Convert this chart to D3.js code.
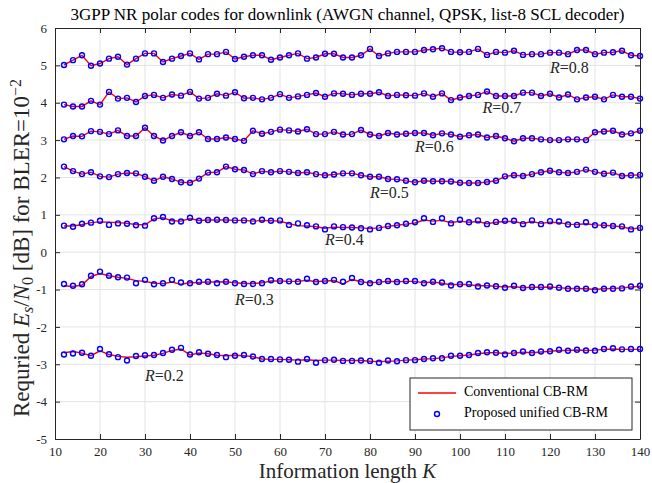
<!DOCTYPE html>
<html>
<head>
<meta charset="utf-8">
<script src="https://cdn.jsdelivr.net/npm/d3@7"></script>
<style>
  body { margin: 0; background: #fff; }
  svg text { font-family: "Liberation Serif", "Times New Roman", serif; }
</style>
</head>
<body>
<div id="container"></div>
<script>
// information length K (x values)
const K = [12,14,16,18,20,22,24,26,28,30,32,34,36,38,40,42,44,46,48,50,
  52,54,56,58,60,62,64,66,68,70,72,74,76,78,80,82,84,86,88,90,92,
  94,96,98,100,102,104,106,108,110,112,114,116,118,120,122,124,126,128,130,132,134,136,138,140];

// proposed unified CB-RM (blue circles)
const prop08 = [5.01,5.14,5.27,4.99,5.05,5.18,5.23,5.02,5.18,5.32,5.32,5.09,5.18,5.25,5.32,5.16,5.30,5.30,5.36,5.17,
  5.23,5.27,5.27,5.15,5.21,5.27,5.32,5.18,5.21,5.31,5.31,5.21,5.21,5.27,5.44,5.25,5.32,5.36,5.36,5.36,5.41,
  5.43,5.46,5.36,5.35,5.36,5.44,5.28,5.36,5.34,5.39,5.28,5.30,5.30,5.34,5.34,5.30,5.41,5.41,5.30,5.34,5.35,5.39,5.27,5.25];
const prop07 = [3.95,3.90,3.90,4.05,3.95,4.29,4.11,4.13,4.02,4.18,4.21,4.13,4.22,4.19,4.29,4.11,4.13,4.24,4.19,4.28,
  4.12,4.13,4.09,4.13,4.23,4.13,4.17,4.21,4.26,4.16,4.25,4.24,4.21,4.24,4.24,4.28,4.18,4.21,4.20,4.19,4.25,
  4.16,4.25,4.07,4.14,4.18,4.21,4.30,4.18,4.18,4.18,4.27,4.27,4.18,4.24,4.14,4.22,4.09,4.14,4.16,4.09,4.21,4.16,4.16,4.11];
const prop06 = [3.02,3.11,3.10,3.24,3.22,3.16,3.26,3.11,3.11,3.33,3.11,2.99,3.11,3.21,3.11,3.21,3.03,3.03,3.07,3.03,
  2.98,3.25,3.17,3.22,3.28,3.26,3.23,3.29,3.16,3.16,3.22,3.15,3.16,3.27,3.15,3.11,3.19,3.15,3.17,3.19,3.19,
  3.13,3.18,3.15,3.09,3.13,3.15,3.07,3.11,3.05,2.97,3.05,3.05,3.02,3.00,3.00,3.02,3.02,3.00,3.21,3.23,3.25,3.15,3.18,3.25];
const prop05 = [2.29,2.17,2.09,2.14,2.03,2.01,2.09,2.12,2.11,2.02,1.91,2.02,1.96,1.87,1.86,1.97,2.13,2.14,2.29,2.22,
  2.20,2.09,2.17,2.14,2.17,2.15,2.12,2.14,2.09,2.06,2.08,2.11,2.11,2.06,2.02,2.02,1.96,1.95,1.91,1.87,1.91,
  1.90,1.90,1.89,1.86,1.85,1.85,1.88,1.91,2.03,2.06,2.04,2.09,2.14,2.18,2.14,2.12,2.15,2.21,2.15,2.10,2.13,2.04,2.06,2.07];
const prop04 = [0.71,0.68,0.76,0.79,0.84,0.73,0.77,0.76,0.72,0.71,0.91,0.94,0.82,0.82,0.92,0.84,0.86,0.87,0.86,0.85,
  0.85,0.82,0.87,0.84,0.85,0.73,0.77,0.72,0.69,0.61,0.69,0.67,0.66,0.64,0.61,0.65,0.70,0.72,0.76,0.80,0.91,
  0.81,0.91,0.77,0.87,0.80,0.85,0.75,0.81,0.84,0.84,0.75,0.85,0.75,0.83,0.82,0.74,0.73,0.80,0.72,0.72,0.70,0.69,0.61,0.65];
const prop03 = [-0.85,-0.90,-0.86,-0.63,-0.52,-0.63,-0.67,-0.68,-0.83,-0.74,-0.86,-0.83,-0.74,-0.81,-0.83,-0.79,-0.79,-0.83,-0.79,-0.83,
  -0.85,-0.85,-0.83,-0.75,-0.77,-0.78,-0.79,-0.71,-0.80,-0.77,-0.74,-0.79,-0.69,-0.80,-0.83,-0.80,-0.77,-0.80,-0.77,-0.77,-0.83,
  -0.79,-0.81,-0.89,-0.86,-0.85,-0.92,-0.89,-0.91,-0.95,-0.90,-0.96,-0.93,-0.93,-0.92,-0.95,-0.98,-0.98,-0.98,-1.02,-0.98,-0.98,-0.97,-0.92,-0.90];
const prop02 = [-2.74,-2.71,-2.69,-2.77,-2.59,-2.73,-2.81,-2.90,-2.78,-2.76,-2.75,-2.70,-2.61,-2.56,-2.74,-2.68,-2.72,-2.75,-2.81,-2.77,
  -2.75,-2.79,-2.86,-2.86,-2.87,-2.88,-2.93,-2.86,-2.96,-2.89,-2.88,-2.91,-2.91,-2.90,-2.91,-2.96,-2.90,-2.92,-2.89,-2.89,-2.86,
  -2.84,-2.84,-2.77,-2.77,-2.75,-2.70,-2.68,-2.69,-2.74,-2.70,-2.66,-2.70,-2.66,-2.65,-2.61,-2.64,-2.61,-2.63,-2.64,-2.59,-2.57,-2.60,-2.59,-2.59];

// conventional CB-RM (red lines); R>=0.5 coincide with the proposed scheme
const conv04 = [0.70,0.70,0.74,0.79,0.81,0.80,0.79,0.77,0.74,0.73,0.89,0.92,0.84,0.83,0.90,0.85,0.86,0.86,0.86,0.85,
  0.85,0.83,0.85,0.84,0.83,0.76,0.71,0.70,0.68,0.64,0.67,0.66,0.66,0.65,0.63,0.65,0.69,0.72,0.75,0.78,0.86,
  0.83,0.85,0.79,0.83,0.80,0.82,0.76,0.80,0.82,0.82,0.77,0.82,0.77,0.80,0.79,0.75,0.74,0.76,0.73,0.72,0.70,0.68,0.62,0.65];
const conv03 = [-0.90,-0.92,-0.88,-0.65,-0.57,-0.63,-0.67,-0.70,-0.76,-0.78,-0.83,-0.84,-0.80,-0.86,-0.82,-0.81,-0.80,-0.80,-0.79,-0.82,
  -0.84,-0.84,-0.82,-0.77,-0.77,-0.78,-0.78,-0.75,-0.79,-0.77,-0.76,-0.85,-0.73,-0.79,-0.82,-0.80,-0.78,-0.79,-0.78,-0.78,-0.82,
  -0.80,-0.83,-0.87,-0.86,-0.87,-0.90,-0.90,-0.91,-0.93,-0.92,-0.95,-0.94,-0.94,-0.93,-0.95,-0.97,-0.97,-0.98,-1.00,-0.98,-0.97,-0.96,-0.93,-0.91];
const conv02 = [-2.69,-2.66,-2.70,-2.77,-2.64,-2.74,-2.79,-2.81,-2.80,-2.78,-2.76,-2.71,-2.63,-2.59,-2.75,-2.70,-2.72,-2.76,-2.77,-2.76,
  -2.77,-2.80,-2.86,-2.87,-2.87,-2.88,-2.89,-2.88,-2.90,-2.89,-2.89,-2.90,-2.90,-2.90,-2.92,-2.93,-2.92,-2.91,-2.89,-2.88,-2.86,
  -2.85,-2.83,-2.79,-2.77,-2.75,-2.72,-2.69,-2.69,-2.71,-2.70,-2.68,-2.69,-2.67,-2.65,-2.63,-2.63,-2.62,-2.63,-2.62,-2.60,-2.59,-2.60,-2.60,-2.60];

const rates = ["0.2","0.3","0.4","0.5","0.6","0.7","0.8"];
const convSeries = [conv02, conv03, conv04, prop05, prop06, prop07, prop08];
const propSeries = [prop02, prop03, prop04, prop05, prop06, prop07, prop08];
// where each R= label sits (data coords)
const labelK = [30, 50, 70, 80, 90, 105, 120];
const labelY = [-3.33, -1.30, 0.30, 1.56, 2.79, 3.83, 4.90];

const xTicks = [10,20,30,40,50,60,70,80,90,100,110,120,130,140];
const yTicks = [-5,-4,-3,-2,-1,0,1,2,3,4,5,6];
const legendNames = ["Conventional CB-RM", "Proposed unified CB-RM"];

const W = 652, H = 483;
const pl = 55, pr = 640, pt = 28, pb = 439;
const serif = "'Liberation Serif', 'Times New Roman', serif";

const svg = d3.select("#container").append("svg")
  .attr("width", W).attr("height", H);

const x = d3.scaleLinear().domain([10, 140]).range([pl, pr]);
const y = d3.scaleLinear().domain([-5, 6]).range([pb, pt]);

// grid
svg.append("g").selectAll("line").data(xTicks.slice(1, -1)).enter().append("line")
  .attr("x1", d => x(d)).attr("x2", d => x(d))
  .attr("y1", pt).attr("y2", pb)
  .attr("stroke", "#e3e3e3").attr("stroke-width", 1);
svg.append("g").selectAll("line").data(yTicks.slice(1, -1)).enter().append("line")
  .attr("x1", pl).attr("x2", pr)
  .attr("y1", d => y(d)).attr("y2", d => y(d))
  .attr("stroke", "#e3e3e3").attr("stroke-width", 1);

// axes, ticks inward, box on
const axisColor = "#262626";
const fmt = d => String(d);
const xb = svg.append("g").attr("transform", `translate(0,${pb})`)
  .call(d3.axisBottom(x).tickValues(xTicks).tickSizeInner(-5).tickSizeOuter(0).tickPadding(8).tickFormat(fmt));
const xt = svg.append("g").attr("transform", `translate(0,${pt})`)
  .call(d3.axisTop(x).tickValues(xTicks).tickSizeInner(-5).tickSizeOuter(0).tickFormat(""));
const yl = svg.append("g").attr("transform", `translate(${pl},0)`)
  .call(d3.axisLeft(y).tickValues(yTicks).tickSizeInner(-5).tickSizeOuter(0).tickPadding(8).tickFormat(fmt));
const yr = svg.append("g").attr("transform", `translate(${pr},0)`)
  .call(d3.axisRight(y).tickValues(yTicks).tickSizeInner(-5).tickSizeOuter(0).tickFormat(""));
[xb, xt, yl, yr].forEach(g => {
  g.attr("font-family", serif).attr("font-size", 13);
  g.select(".domain").attr("stroke", axisColor).attr("stroke-width", 1);
  g.selectAll(".tick line").attr("stroke", axisColor);
  g.selectAll(".tick text").attr("fill", axisColor)
    .attr("font-family", serif).style("font-family", serif).style("font-size", "13px");
});

// curves
const line = d3.line().x((d, i) => x(K[i])).y(d => y(d));
svg.append("g").selectAll("path").data(convSeries).enter().append("path")
  .attr("d", line)
  .attr("fill", "none").attr("stroke", "#ff0000").attr("stroke-width", 1.4);

propSeries.forEach(s => {
  svg.append("g").selectAll("circle").data(s).enter().append("circle")
    .attr("cx", (d, i) => x(K[i])).attr("cy", d => y(d))
    .attr("r", 2.5)
    .attr("fill", "none").attr("stroke", "#0000ff").attr("stroke-width", 1.4);
});

// R= labels
rates.forEach((r, i) => {
  const t = svg.append("text")
    .attr("x", x(labelK[i])).attr("y", y(labelY[i]))
    .attr("dominant-baseline", "middle")
    .style("font-size", "16px").attr("fill", "#262626");
  t.append("tspan").style("font-style", "italic").text("R");
  t.append("tspan").text("=" + r);
});

// title
svg.append("text")
  .attr("x", (pl + pr) / 2).attr("y", 20)
  .attr("text-anchor", "middle")
  .style("font-size", "17px").attr("fill", "#000")
  .text("3GPP NR polar codes for downlink (AWGN channel, QPSK, list-8 SCL decoder)");

// x label
const xl = svg.append("text")
  .attr("x", (pl + pr) / 2).attr("y", 478)
  .attr("text-anchor", "middle")
  .style("font-size", "21px").attr("fill", "#262626");
xl.append("tspan").text("Information length ");
xl.append("tspan").style("font-style", "italic").text("K");

// y label
const ylab = svg.append("text")
  .attr("transform", "translate(29,248) rotate(-90)")
  .attr("text-anchor", "middle")
  .style("font-size", "23px").attr("fill", "#262626");
ylab.append("tspan").text("Requried ");
ylab.append("tspan").style("font-style", "italic").text("E");
ylab.append("tspan").style("font-style", "italic").style("font-size", "16px").attr("dy", 4).text("s");
ylab.append("tspan").attr("dy", -4).text("/");
ylab.append("tspan").style("font-style", "italic").text("N");
ylab.append("tspan").style("font-size", "16px").attr("dy", 4).text("0");
ylab.append("tspan").attr("dy", -4).text(" [dB] for BLER=10");
ylab.append("tspan").style("font-size", "16px").attr("dy", -8).text("\u22122");

// legend
const lg = svg.append("g").attr("transform", "translate(410,378)");
lg.append("rect").attr("width", 222).attr("height", 52)
  .attr("fill", "#fff").attr("stroke", "#262626").attr("stroke-width", 1);
lg.append("line").attr("x1", 8).attr("x2", 46).attr("y1", 15).attr("y2", 15)
  .attr("stroke", "#ff0000").attr("stroke-width", 1.4);
lg.append("circle").attr("cx", 27).attr("cy", 36).attr("r", 2.5)
  .attr("fill", "none").attr("stroke", "#0000ff").attr("stroke-width", 1.4);
lg.selectAll("text.leg").data(legendNames).enter().append("text")
  .attr("class", "leg")
  .attr("x", 54).attr("y", (d, i) => 15 + i * 21)
  .attr("dominant-baseline", "middle")
  .style("font-size", "14px").attr("fill", "#000")
  .text(d => d);
</script>
</body>
</html>
